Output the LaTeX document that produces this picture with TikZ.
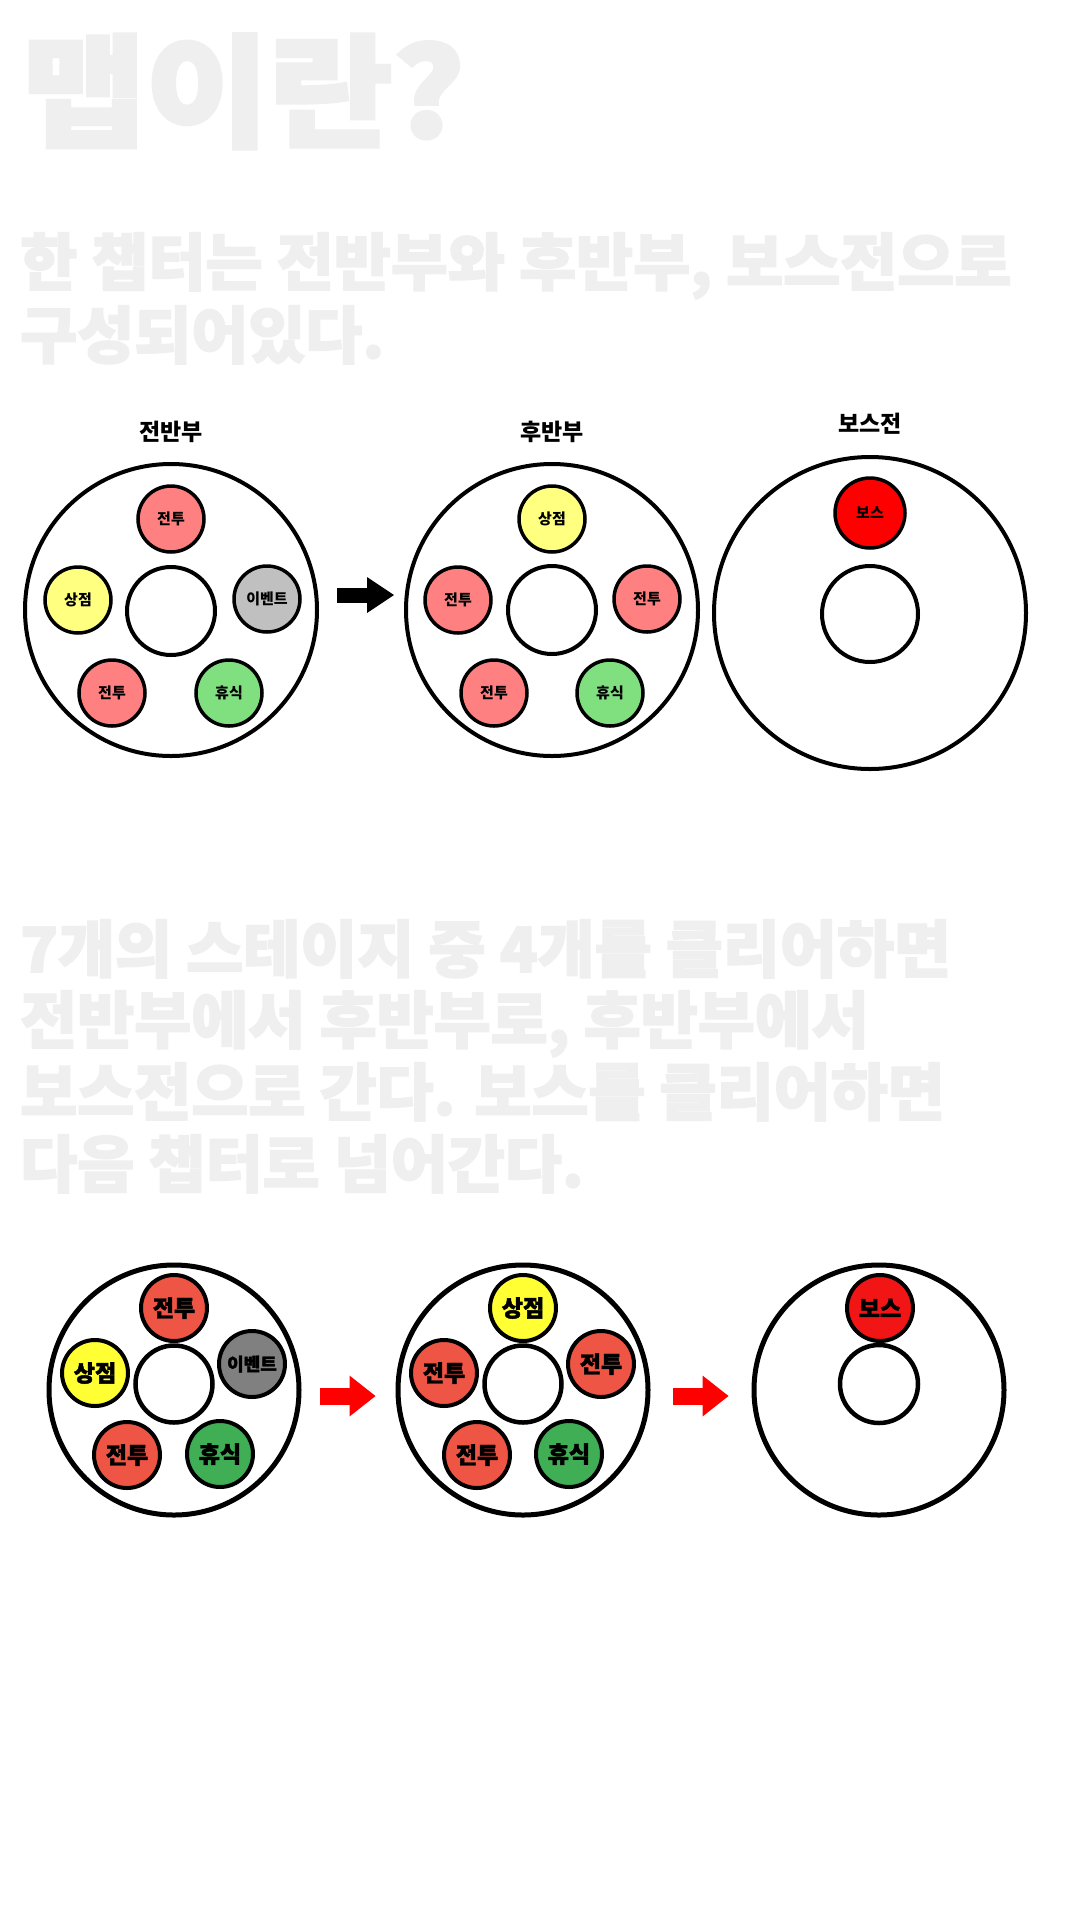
\documentclass[tikz,border=0pt]{standalone}
\usepackage{fontspec}
\setmainfont{Noto Sans CJK KR}
\newfontfamily\heavy{Noto Sans CJK KR}[FakeBold=2.5]
\newfontfamily\heavytitle{Noto Sans CJK KR}[FakeStretch=1.1,FakeBold=3]
\newfontfamily\heavylabel{Noto Sans CJK KR}[FakeBold=1.8]
\usetikzlibrary{positioning,arrows.meta}

\definecolor{headgray}{HTML}{EFEFEF}
\definecolor{fightA}{HTML}{FF8080}
\definecolor{shopA}{HTML}{FFFF80}
\definecolor{eventA}{HTML}{C0C0C0}
\definecolor{restA}{HTML}{80E080}
\definecolor{bossA}{HTML}{FF0000}
\definecolor{fightB}{HTML}{EF5545}
\definecolor{shopB}{HTML}{FFFF33}
\definecolor{eventB}{HTML}{808080}
\definecolor{restB}{HTML}{3FAE54}
\definecolor{bossB}{HTML}{F21515}
\definecolor{arrowred}{HTML}{FF0000}

\tikzset{
  headline/.style={anchor=base west, inner sep=0pt, text=headgray},
  ringlabel/.style={inner sep=0pt, font=\bfseries\fontsize{23}{23}\selectfont},
  ringA/.style={circle, draw, line width=4pt, minimum size=292pt, inner sep=0pt},
  hubA/.style={circle, draw, fill=white, line width=4pt, minimum size=88pt, inner sep=0pt},
  stageA/.style={circle, draw, line width=3.5pt, minimum size=66pt, inner sep=0pt,
    font=\bfseries\fontsize{15}{15}\selectfont},
  ringB/.style={circle, draw, line width=5pt, minimum size=250pt, inner sep=0pt},
  hubB/.style={circle, draw, fill=white, line width=4.5pt, minimum size=77pt, inner sep=0pt},
  stageB/.style={circle, draw, line width=4pt, minimum size=66pt, inner sep=0pt,
    font=\heavylabel\bfseries\fontsize{23}{23}\selectfont},
  blockA/.style={line width=15pt, -{Triangle[length=27pt, width=36pt, line width=0pt]}},
  blockB/.style={arrowred, line width=17pt, -{Triangle[length=26pt, width=41pt, line width=0pt]}}
}

\begin{document}
\begin{tikzpicture}[x=1pt,y=-1pt]
  \fill[white] (0,0) rectangle (1080,1920);
  \useasboundingbox (0,0) rectangle (1080,1920);

  \node[headline, font=\heavytitle\bfseries\fontsize{122}{122}\selectfont] (title) at (22,137) {맵이란?};
  \node[headline, font=\heavy\bfseries\fontsize{62}{62}\selectfont] (intro1) at (20,285) {한 챕터는 전반부와 후반부, 보스전으로};
  \node[headline, font=\heavy\bfseries\fontsize{62}{62}\selectfont] (intro2) at (20,358) {구성되어있다.};

  \begin{scope}[shift={(171,610)}]
    \draw
      (0,0) node[ringA] (ringA) {}
      (0,1) node[hubA] (hubA) {}
      (0,-91) node[stageA, fill=fightA] (a1) {전투}
      (-93,-10) node[stageA, fill=shopA] (a2) {상점}
      (96,-11) node[stageA, fill=eventA] (a3) {이벤트}
      (-59,83) node[stageA, fill=fightA] (a4) {전투}
      (58,83) node[stageA, fill=restA] (a5) {휴식};
  \end{scope}
  \begin{scope}[shift={(552,610)}]
    \draw
      (0,0) node[ringA] (ringB) {}
      (0,0) node[hubA] (hubB) {}
      (0,-91) node[stageA, fill=shopA] (b1) {상점}
      (-94,-10) node[stageA, fill=fightA] (b2) {전투}
      (95,-11) node[stageA, fill=fightA] (b3) {전투}
      (-58,83) node[stageA, fill=fightA] (b4) {전투}
      (58,83) node[stageA, fill=restA] (b5) {휴식};
  \end{scope}
  \begin{scope}[shift={(870,613)}]
    \draw
      (0,0) node[ringA, minimum size=312pt] (ringC) {}
      (0,1) node[hubA, minimum size=96pt] (hubC) {}
      (0,-100) node[stageA, fill=bossA, minimum size=70pt] (c1) {보스};
  \end{scope}
  \node[ringlabel, above=19pt of ringA] (lblA) {전반부};
  \node[ringlabel, above=19pt of ringB] (lblB) {후반부};
  \node[ringlabel, above=20pt of ringC] (lblC) {보스전};
  \draw[blockA, shorten <=18pt, shorten >=10pt] ([yshift=15pt]ringA.east) to ([yshift=15pt]ringB.west);

  \node[headline, font=\heavy\bfseries\fontsize{62}{62}\selectfont] (rule1) at (20,972) {7개의 스테이지 중 4개를 클리어하면};
  \node[headline, font=\heavy\bfseries\fontsize{62}{62}\selectfont] (rule2) at (20,1043) {전반부에서 후반부로, 후반부에서};
  \node[headline, font=\heavy\bfseries\fontsize{62}{62}\selectfont] (rule3) at (20,1115) {보스전으로 간다. 보스를 클리어하면};
  \node[headline, font=\heavy\bfseries\fontsize{62}{62}\selectfont] (rule4) at (20,1187) {다음 챕터로 넘어간다.};

  \begin{scope}[shift={(174,1390)}]
    \draw
      (0,0) node[ringB] (ringD) {}
      (0,-6) node[hubB] (hubD) {}
      (0,-82) node[stageB, fill=fightB] (d1) {전투}
      (-79,-17) node[stageB, fill=shopB] (d2) {상점}
      (78,-26) node[stageB, fill=eventB, font=\heavylabel\bfseries\fontsize{18}{18}\selectfont] (d3) {이벤트}
      (-47,65) node[stageB, fill=fightB] (d4) {전투}
      (46,64) node[stageB, fill=restB] (d5) {휴식};
  \end{scope}
  \begin{scope}[shift={(523,1390)}]
    \draw
      (0,0) node[ringB] (ringE) {}
      (0,-6) node[hubB] (hubE) {}
      (0,-82) node[stageB, fill=shopB] (e1) {상점}
      (-79,-17) node[stageB, fill=fightB] (e2) {전투}
      (78,-26) node[stageB, fill=fightB] (e3) {전투}
      (-46,65) node[stageB, fill=fightB] (e4) {전투}
      (46,64) node[stageB, fill=restB] (e5) {휴식};
  \end{scope}
  \begin{scope}[shift={(879,1390)}]
    \draw
      (0,0) node[ringB] (ringF) {}
      (0,-6) node[hubB, minimum size=78pt] (hubF) {}
      (1,-82) node[stageB, fill=bossB] (f1) {보스};
  \end{scope}
  \draw[blockB, shorten <=18pt, shorten >=20pt] ([yshift=-6pt]ringD.east) to ([yshift=-6pt]ringE.west);
  \draw[blockB, shorten <=22pt, shorten >=23pt] ([yshift=-6pt]ringE.east) to ([yshift=-6pt]ringF.west);
\end{tikzpicture}
\end{document}
